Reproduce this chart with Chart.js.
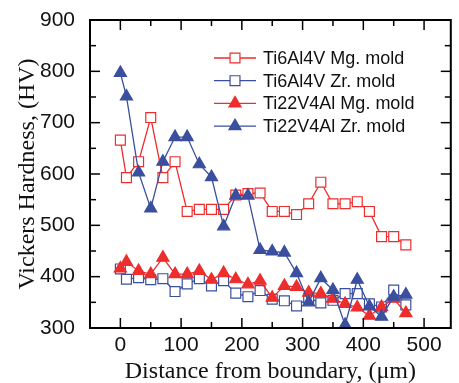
<!DOCTYPE html>
<html>
<head>
<meta charset="utf-8">
<script src="https://cdn.jsdelivr.net/npm/chart.js@4"></script>
<style>
  html, body { margin: 0; padding: 0; background: #fff; }
  #contenedor { width: 459px; height: 383px; }
</style>
</head>
<body>
<div id="contenedor"><canvas id="graficaDureza" width="459" height="383"></canvas></div>
<script>
// distancia desde el borde (um)
const distancia = [0, 10, 30, 50, 70, 90, 110, 130, 150, 170, 190, 210, 230, 250, 270, 290, 310, 330, 350, 370, 390, 410, 430, 450, 470];

// dureza Vickers (HV)
const ti64Mg = [666, 593, 624, 710, 593, 624, 527, 531, 531, 531, 559, 562, 563, 527, 527, 521, 542, 584, 542, 542, 546, 527, 478, 478, 462];
const ti64Zr = [415, 395, 398, 394, 396, 371, 386, 396, 382, 392, 368, 361, 373, 356, 353, 343, 358, 349, 354, 367, 367, 347, 341, 374, 345];
const ti22Mg = [416, 429, 411, 405, 437, 405, 405, 411, 394, 407, 395, 385, 392, 359, 382, 380, 369, 367, 357, 347, 340, 324, 341, 357, 329];
const ti22Zr = [797, 751, 603, 533, 624, 672, 672, 619, 594, 498, 558, 558, 452, 449, 447, 407, 350, 397, 374, 306, 394, 342, 322, 361, 365];

const nombres = ["Ti6Al4V Mg. mold", "Ti6Al4V Zr. mold", "Ti22V4Al Mg. mold", "Ti22V4Al Zr. mold"];

const marcasX = [-50, 0, 50, 100, 150, 200, 250, 300, 350, 400, 450, 500];
const marcasY = [300, 350, 400, 450, 500, 550, 600, 650, 700, 750, 800, 850, 900];

const rojo = "#ee2d2d";
const azul = "#3a4f9e";

const puntos = (serie) => distancia.map((d, i) => ({ x: d, y: serie[i] }));

const serieBase = (label, data, color, estilo, relleno, orden) => ({
  label: label,
  data: puntos(data),
  borderColor: color,
  borderWidth: 1.3,
  pointStyle: estilo,
  pointRadius: 7,
  pointHoverRadius: 7,
  pointBorderWidth: 1.2,
  pointBorderColor: color,
  pointBackgroundColor: relleno,
  backgroundColor: relleno,
  order: orden,
});

const datasets = [
  serieBase(nombres[0], ti64Mg, rojo, "rect", "#ffffff", 4),
  serieBase(nombres[1], ti64Zr, azul, "rect", "#ffffff", 3),
  serieBase(nombres[2], ti22Mg, rojo, "triangle", rojo, 2),
  serieBase(nombres[3], ti22Zr, azul, "triangle", azul, 1),
];

// marco y marcas hacia adentro
const marcoEjes = {
  id: "marcoEjes",
  afterDraw(chart) {
    const { ctx, chartArea: a, scales } = chart;
    ctx.save();
    ctx.strokeStyle = "#000";
    ctx.lineWidth = 1.5;
    const linea = (x1, y1, x2, y2) => {
      ctx.beginPath();
      ctx.moveTo(x1, y1);
      ctx.lineTo(x2, y2);
      ctx.stroke();
    };
    marcasX.forEach((v) => {
      const px = scales.x.getPixelForValue(v);
      const largo = v % 100 === 0 ? 10 : 6;
      linea(px, a.bottom, px, a.bottom - largo);
      linea(px, a.top, px, a.top + largo);
    });
    marcasY.forEach((v) => {
      const py = scales.y.getPixelForValue(v);
      const largo = v % 100 === 0 ? 10 : 6;
      linea(a.left, py, a.left + largo, py);
      linea(a.right, py, a.right - largo, py);
    });
    ctx.lineWidth = 2;
    ctx.strokeRect(a.left, a.top, a.right - a.left, a.bottom - a.top);
    ctx.restore();
  },
};

// leyenda dentro del area
const leyenda = {
  id: "leyenda",
  afterDraw(chart) {
    const ctx = chart.ctx;
    ctx.save();
    chart.data.datasets.forEach((ds, i) => {
      const y = 58 + i * 22.7;
      ctx.strokeStyle = ds.borderColor;
      ctx.lineWidth = 1.3;
      ctx.beginPath();
      ctx.moveTo(214, y);
      ctx.lineTo(256, y);
      ctx.stroke();
      ctx.fillStyle = ds.pointBackgroundColor;
      ctx.strokeStyle = ds.pointBorderColor;
      ctx.lineWidth = 1.2;
      Chart.helpers.drawPoint(ctx, { pointStyle: ds.pointStyle, radius: 7, rotation: 0, borderWidth: 1.2 }, 235, y);
      ctx.fillStyle = "#111";
      ctx.font = "18px 'Liberation Sans', sans-serif";
      ctx.textBaseline = "middle";
      ctx.textAlign = "left";
      ctx.fillText(ds.label, 263, y + 1);
    });
    ctx.restore();
  },
};

const canvas = document.getElementById("graficaDureza");
const ctx = canvas.getContext("2d");

window.myChart = new Chart(ctx, {
  type: "line",
  data: { datasets: datasets },
  options: {
    responsive: false,
    animation: false,
    layout: { padding: { top: 20, right: 2, left: 0, bottom: 0 } },
    plugins: {
      legend: { display: false },
      tooltip: { enabled: false },
    },
    scales: {
      x: {
        type: "linear",
        min: -50,
        max: 544,
        afterFit: (s) => { s.height = 55; },
        afterBuildTicks: (s) => { s.ticks = marcasX.map((v) => ({ value: v })); },
        grid: { display: false },
        border: { display: false },
        ticks: {
          padding: -3,
          color: "#111",
          font: { family: "'Liberation Sans', sans-serif", size: 21 },
          maxRotation: 0,
          autoSkip: false,
          callback: (v) => (v % 100 === 0 && v >= 0 ? v : ""),
        },
        title: {
          display: true,
          text: "Distance from boundary, (\u03bcm)",
          color: "#111",
          font: { family: "'Liberation Serif', serif", size: 24 },
          padding: { top: 0, bottom: -3 },
        },
      },
      y: {
        type: "linear",
        min: 300,
        max: 900,
        afterFit: (s) => { s.width = 90; },
        afterBuildTicks: (s) => { s.ticks = marcasY.map((v) => ({ value: v })); },
        grid: { display: false },
        border: { display: false },
        ticks: {
          padding: 7,
          color: "#111",
          font: { family: "'Liberation Sans', sans-serif", size: 21 },
          autoSkip: false,
          callback: (v) => (v % 100 === 0 ? v : ""),
        },
        title: {
          display: true,
          text: "Vickers Hardness, (HV)",
          color: "#111",
          font: { family: "'Liberation Serif', serif", size: 24 },
          padding: { top: 13, bottom: 0 },
        },
      },
    },
  },
  plugins: [marcoEjes, leyenda],
});
</script>
</body>
</html>
